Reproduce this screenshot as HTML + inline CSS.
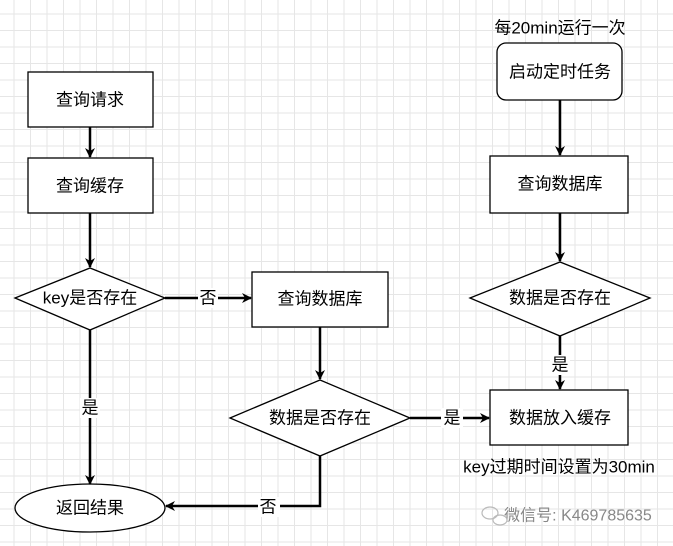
<!DOCTYPE html><html><head><meta charset="utf-8"><style>
body{margin:0;width:673px;height:546px;overflow:hidden;background:#fff;
background-image:linear-gradient(#e6e6e6 1px,transparent 1px),linear-gradient(90deg,#e6e6e6 1px,transparent 1px);background-size:16.5px 16.5px;background-position:-3px -3px;}
svg{position:absolute;left:0;top:0}
text{font-family:"Liberation Sans","Noto Sans CJK SC",sans-serif;font-size:17px;fill:#000;text-anchor:middle;dominant-baseline:central}
</style></head><body>
<svg width="673" height="546" viewBox="0 0 673 546">
<defs><marker id="a" markerWidth="10" markerHeight="10" refX="9" refY="5" orient="auto" markerUnits="userSpaceOnUse"><path d="M0,0 L10,5 L0,10 L3,5 z" fill="#000"/></marker></defs>
<g fill="#fff" stroke="#000" stroke-width="1.3">
<rect x="28" y="72" width="125" height="55"/>
<rect x="28" y="158" width="125" height="55"/>
<polygon points="15,298 90,268 165,298 90,330"/>
<rect x="252" y="272" width="136" height="55"/>
<polygon points="230,418 320,380 410,418 320,456"/>
<ellipse cx="90" cy="508" rx="75" ry="24"/>
<rect x="497" y="43" width="125" height="57" rx="9"/>
<rect x="490" y="156" width="138" height="57"/>
<polygon points="470,298 560,262 650,298 560,336"/>
<rect x="490" y="390" width="138" height="55"/>
</g>
<g stroke="#000" stroke-width="2.5" fill="none" marker-end="url(#a)">
<line x1="90" y1="127" x2="90" y2="157"/>
<line x1="90" y1="213" x2="90" y2="267"/>
<line x1="165" y1="298" x2="251" y2="298"/>
<line x1="320" y1="327" x2="320" y2="379"/>
<line x1="410" y1="418" x2="489" y2="418"/>
<polyline points="320,456 320,506 166,506"/>
<line x1="90" y1="330" x2="90" y2="484"/>
<line x1="560" y1="100" x2="560" y2="155"/>
<line x1="560" y1="213" x2="560" y2="261"/>
<line x1="560" y1="336" x2="560" y2="389"/>
</g>
<g fill="#fff"><rect x="198" y="288" width="20" height="20"/><rect x="441" y="408" width="22" height="20"/><rect x="258" y="497" width="22" height="20"/><rect x="80" y="398" width="20" height="20"/><rect x="550" y="355" width="20" height="20"/></g>
<text x="90" y="100">查询请求</text>
<text x="90" y="186">查询缓存</text>
<text x="90" y="298">key是否存在</text>
<text x="320" y="299">查询数据库</text>
<text x="320" y="418">数据是否存在</text>
<text x="90" y="508">返回结果</text>
<text x="560" y="72">启动定时任务</text>
<text x="560" y="184">查询数据库</text>
<text x="560" y="298">数据是否存在</text>
<text x="560" y="418">数据放入缓存</text>
<text x="560" y="28">每20min运行一次</text>
<text x="559" y="467">key过期时间设置为30min</text>
<text x="208" y="298">否</text>
<text x="452" y="418">是</text>
<text x="268" y="507">否</text>
<text x="90" y="408">是</text>
<text x="560" y="365">是</text>
<text x="578" y="516" style="fill:#888;font-size:16px">微信号: K469785635</text>
<g stroke="#bbb" fill="none" stroke-width="1.2"><ellipse cx="490" cy="513" rx="8" ry="6"/><ellipse cx="500" cy="520" rx="7" ry="5"/></g>
</svg></body></html>
